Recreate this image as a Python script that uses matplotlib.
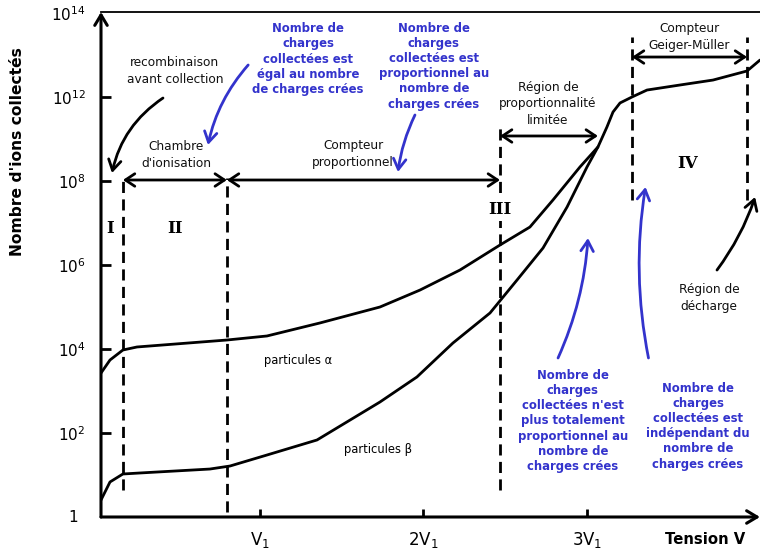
import matplotlib
matplotlib.use('Agg')
import matplotlib.pyplot as plt

plt.rcParams['font.family'] = ['DejaVu Sans']
plt.rcParams['mathtext.fontset'] = 'dejavusans'

BLUE = '#3333cc'

# ---- data (x in units of V1, y in axis decade-position units) ----
ytick_pos = [0, 1, 2, 3, 4, 5, 6]
ytick_labels = ['1', r'$10^{2}$', r'$10^{4}$', r'$10^{6}$', r'$10^{8}$', r'$10^{12}$', r'$10^{14}$']
xtick_pos = [1, 2, 3]
xtick_labels = [r'V$_1$', r'2V$_1$', r'3V$_1$']

alpha_x = [0.028, 0.083, 0.162, 0.248, 0.798, 1.043, 1.367, 1.734, 1.979, 2.223,
           2.468, 2.651, 2.792, 2.957]
alpha_y = [1.714, 1.869, 1.988, 2.024, 2.107, 2.155, 2.310, 2.500, 2.702, 2.940,
           3.238, 3.452, 3.774, 4.167]
beta_x = [0.028, 0.083, 0.162, 0.266, 0.694, 0.817, 1.043, 1.349, 1.734, 1.960,
          2.180, 2.407, 2.572, 2.731, 2.878, 3.000]
beta_y = [0.202, 0.417, 0.512, 0.524, 0.571, 0.607, 0.738, 0.917, 1.369, 1.667,
          2.071, 2.429, 2.821, 3.202, 3.690, 4.167]
tail_x = [3.067, 3.122, 3.159, 3.202, 3.275, 3.367, 3.569, 3.771, 3.979, 4.058]
tail_y = [4.405, 4.643, 4.821, 4.929, 5.000, 5.083, 5.143, 5.202, 5.310, 5.440]

bound_x = [0.162, 0.798, 2.468, 3.275, 3.979]
bound_ymin = [0.321, 0.060, 0.321, 3.774, 3.774]
bound_ymax = [4.036, 4.036, 4.631, 5.714, 5.714]

span_arrows = [  # (x1, x2, y)
    (0.162, 0.798, 4.012),
    (0.798, 2.468, 4.012),
    (2.468, 3.067, 4.536),
    (3.275, 3.979, 5.476),
]

fig = plt.figure(figsize=(7.6, 5.48), dpi=100)
ax = fig.add_axes([101 / 760, 31 / 548, 659 / 760, 505 / 548])
ax.set_xlim(0.028, 4.058)
ax.set_ylim(0, 6.012)

for s in ['left', 'bottom', 'right']:
    ax.spines[s].set_visible(False)
ax.spines['top'].set_linewidth(1.3)

# axes with arrows
ax.annotate('', xy=(0, 1), xytext=(0, 0), xycoords='axes fraction',
            arrowprops=dict(arrowstyle='->,head_length=0.5,head_width=0.3', lw=2.2,
                            shrinkA=0, shrinkB=0, mutation_scale=15, color='k'),
            annotation_clip=False)
ax.annotate('', xy=(1.0, 0), xytext=(0, 0), xycoords='axes fraction',
            arrowprops=dict(arrowstyle='->,head_length=0.5,head_width=0.3', lw=2.2,
                            shrinkA=0, shrinkB=0, mutation_scale=15, color='k'),
            annotation_clip=False)

ax.set_yticks(ytick_pos)
ax.set_yticklabels([''] + ytick_labels[1:], fontsize=11)
ax.text(-0.043, ytick_pos[0], ytick_labels[0], transform=ax.get_yaxis_transform(),
        ha='center', va='center', fontsize=11)
ax.set_xticks(xtick_pos)
ax.set_xticklabels(xtick_labels, fontsize=12)
ax.tick_params(axis='y', direction='in', length=7.5, width=2, pad=11)
ax.tick_params(axis='x', direction='in', length=6, width=2, pad=9)
ax.yaxis.get_major_ticks()[-1].tick1line.set_visible(False)
ax.yaxis.get_major_ticks()[0].tick1line.set_visible(False)

# curves
ax.plot(alpha_x + tail_x, alpha_y + tail_y, color='k', lw=2, solid_joinstyle='round',
        solid_capstyle='round')
ax.plot(beta_x + tail_x[:1], beta_y + tail_y[:1], color='k', lw=2, solid_joinstyle='round',
        solid_capstyle='round')

# region boundaries
for bx, y0, y1 in zip(bound_x, bound_ymin, bound_ymax):
    ax.plot([bx, bx], [y0, y1], color='k', lw=2, linestyle=(0, (4, 2.3)))

# span arrows
for x1, x2, y in span_arrows:
    ax.annotate('', xy=(x2, y), xytext=(x1, y),
                arrowprops=dict(arrowstyle='<->,head_length=0.45,head_width=0.3', lw=2,
                                shrinkA=0, shrinkB=0, mutation_scale=15, color='k'))

txt = dict(ha='center', va='center', fontsize=8.7, linespacing=1.35, color='#111111')
ax.text(0.480, 5.310, 'recombinaison\navant collection', **txt)
ax.text(0.486, 4.310, "Chambre\nd'ionisation", **txt)
ax.text(1.569, 4.321, 'Compteur\nproportionnel', **txt)
ax.text(2.761, 4.917, 'Région de\nproportionnalité\nlimitée', **txt)
ax.text(3.624, 5.714, 'Compteur\nGeiger-Müller', **txt)
ax.text(3.746, 2.607, 'Région de\ndécharge', **txt)
ax.text(1.234, 1.869, 'particules α', ha='center', va='center', fontsize=8.3)
ax.text(1.722, 0.798, 'particules β', ha='center', va='center', fontsize=8.3)

rom = dict(ha='center', va='center', fontsize=12, fontweight='bold', family='DejaVu Serif')
ax.text(0.083, 3.440, 'I', **rom)
ax.text(0.480, 3.440, 'II', **rom)
ax.text(2.468, 3.655, 'III', bbox=dict(facecolor='white', edgecolor='none', pad=2), **rom)
ax.text(3.618, 4.214, 'IV', **rom)

btxt = dict(ha='center', va='center', fontsize=8.4, fontweight='bold', color=BLUE,
            linespacing=1.22)
ax.text(1.294, 5.452, 'Nombre de\ncharges\ncollectées est\négal au nombre\nde charges crées', **btxt)
ax.text(2.064, 5.369, 'Nombre de\ncharges\ncollectées est\nproportionnel au\nnombre de\ncharges crées', **btxt)
ax.text(2.914, 1.143, "Nombre de\ncharges\ncollectées n'est\nplus totalement\nproportionnel au\nnombre de\ncharges crées", **btxt)
ax.text(3.679, 1.083, 'Nombre de\ncharges\ncollectées est\nindépendant du\nnombre de\ncharges crées', **btxt)

def curved(x1, y1, x2, y2, rad, color, lw):
    ax.annotate('', xy=(x2, y2), xytext=(x1, y1),
                arrowprops=dict(arrowstyle='->,head_length=0.5,head_width=0.3', lw=lw,
                                color=color, shrinkA=0, shrinkB=0, mutation_scale=15,
                                connectionstyle=f'arc3,rad={rad}'))

curved(0.407, 4.988, 0.095, 4.095, 0.2, 'k', 2)
curved(0.928, 5.381, 0.682, 4.429, 0.13, BLUE, 2)
curved(1.948, 4.786, 1.844, 4.107, 0.08, BLUE, 2)
curved(2.823, 1.893, 3.006, 3.321, 0.09, BLUE, 2)
curved(3.376, 1.893, 3.358, 3.929, -0.09, BLUE, 2)
curved(3.795, 2.940, 4.028, 3.810, 0.08, 'k', 2)

fig.text(18 / 760, 1 - 152 / 548, "Nombre d'ions collectés", rotation=90, ha='center',
         va='center', fontsize=11.2, fontweight='bold')
fig.text(705 / 760, 1 - 540 / 548, 'Tension V', ha='center', va='center',
         fontsize=10.7, fontweight='bold')

fig.savefig('out.png', dpi=100)
